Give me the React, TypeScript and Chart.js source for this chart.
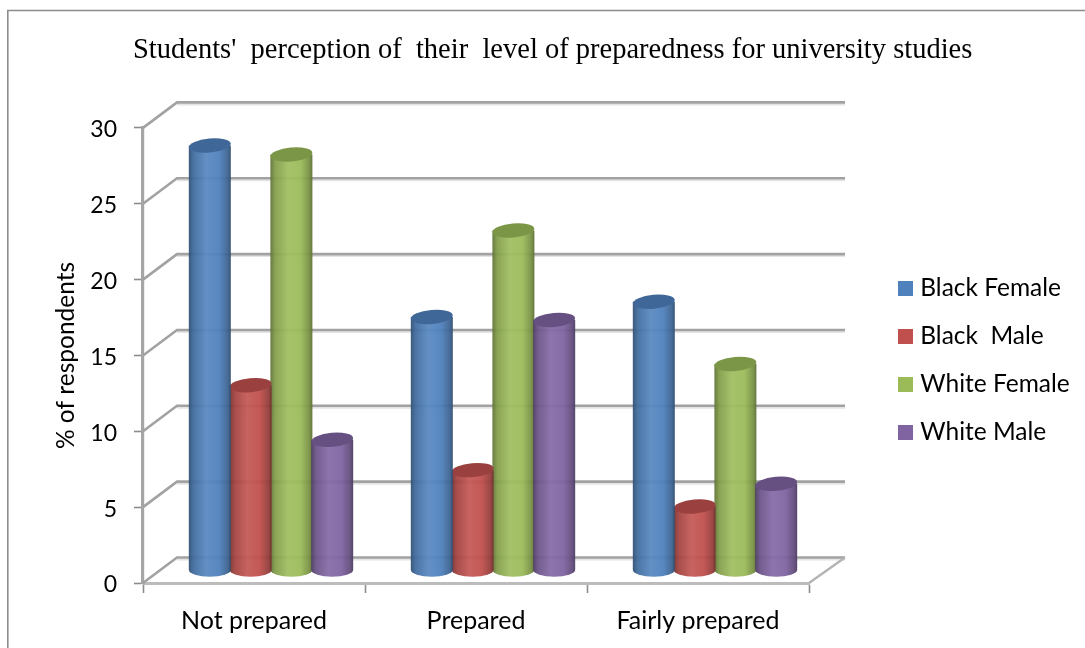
import React, { useEffect, useRef } from "react";
import { Chart, registerables, BarController, BarElement } from "chart.js";

const categories = ["Not prepared", "Prepared", "Fairly prepared"];
const blackFemale = [28, 16.7, 17.7];
const blackMale = [12.2, 6.6, 4.2];
const whiteFemale = [27.4, 22.4, 13.6];
const whiteMale = [8.6, 16.5, 5.7];
const seriesNames = ["Black Female", "Black  Male", "White Female", "White Male"];
const seriesColors = ["#4f81bd", "#c0504d", "#9bbb59", "#8064a2"];
const yTicks = [0, 5, 10, 15, 20, 25, 30];
const chartTitle = "Students'  perception of  their  level of preparedness for university studies";
const yTitle = "% of respondents";

// Depth of the 3D box, and where the cylinders stand inside it.
const DEPTH_X = 34;
const DEPTH_Y = 25.5;
const ELLIPSE_RY = 7;
const ELLIPSE_TILT = -0.09;

function shade(hex: string, f: number): string {
  const n = parseInt(hex.slice(1), 16);
  const mix = (c: number) =>
    Math.round(f < 1 ? c * f : c + (255 - c) * (f - 1));
  return `rgb(${mix(n >> 16)},${mix((n >> 8) & 255)},${mix(n & 255)})`;
}

class CylinderElement extends BarElement {
  static id = "cylinder";
  draw(ctx: CanvasRenderingContext2D) {
    const { x, y, base, width } = (this as any).getProps(["x", "y", "base", "width"], false);
    const color = (this as any).options.backgroundColor as string;
    const cx = x + DEPTH_X / 2;
    const top = y - DEPTH_Y / 2;
    const bottom = base - DEPTH_Y / 2;
    const r = width / 2 + 0.6;
    const grad = ctx.createLinearGradient(cx - r, 0, cx + r, 0);
    grad.addColorStop(0, shade(color, 0.62));
    grad.addColorStop(0.12, shade(color, 0.85));
    grad.addColorStop(0.42, shade(color, 1.06));
    grad.addColorStop(0.72, shade(color, 1));
    grad.addColorStop(0.92, shade(color, 0.78));
    grad.addColorStop(1, shade(color, 0.6));
    ctx.save();
    ctx.globalAlpha = 0.95;
    ctx.beginPath();
    ctx.moveTo(cx - r, top);
    ctx.lineTo(cx - r, bottom);
    ctx.ellipse(cx, bottom, r, ELLIPSE_RY, 0, Math.PI, 0, true);
    ctx.lineTo(cx + r, top);
    ctx.closePath();
    ctx.fillStyle = grad;
    ctx.fill();
    ctx.globalAlpha = 1;
    ctx.beginPath();
    ctx.ellipse(cx, top, r, ELLIPSE_RY, ELLIPSE_TILT, 0, Math.PI * 2);
    ctx.fillStyle = shade(color, 0.8);
    ctx.fill();
    ctx.restore();
  }
}

class CylinderController extends BarController {
  static id = "cylinderBar";
  static defaults = { ...(BarController as any).defaults, dataElementType: "cylinder" };
}

Chart.register(...registerables, CylinderElement as any, CylinderController as any);

function swatch(color: string): HTMLCanvasElement {
  const c = document.createElement("canvas");
  c.width = 15;
  c.height = 15;
  const g = c.getContext("2d")!;
  g.fillStyle = color;
  g.fillRect(0, 0, 15, 15);
  return c;
}

const boxPlugin = {
  id: "box3d",
  afterLayout(chart: any) {
    // Title and legend sit at fixed places around the plot.
    const t = chart.titleBlock;
    t.left = 133;
    t.right = 1085;
    const l = chart.legend;
    const pad = l.options.labels.padding;
    l.left = 903 - pad;
    l.right = 1085;
    l.top = 276 - pad;
    l.bottom = 640;
    // Value labels sit slightly below their tick marks.
    const y = chart.scales.y;
    const drawLabels = y.drawLabels;
    y.drawLabels = function (area: any) {
      chart.ctx.save();
      chart.ctx.translate(0, 2);
      drawLabels.call(y, area);
      chart.ctx.restore();
    };
  },
  beforeDraw(chart: any) {
    // Outer frame: left and top rules only.
    const { ctx } = chart;
    ctx.save();
    ctx.strokeStyle = "#8c8c8c";
    ctx.lineWidth = 1.6;
    ctx.beginPath();
    ctx.moveTo(7.8, 648);
    ctx.lineTo(7.8, 10.5);
    ctx.lineTo(1085, 10.5);
    ctx.stroke();
    ctx.restore();
  },
  beforeDatasetsDraw(chart: any) {
    const { ctx, chartArea: a, scales } = chart;
    const y = scales.y;
    const bx = a.left + DEPTH_X;
    const ex = a.right + DEPTH_X + 2;
    ctx.save();
    ctx.lineCap = "butt";
    for (const tick of y.ticks) {
      const py = y.getPixelForValue(tick.value);
      const by = py - DEPTH_Y;
      ctx.strokeStyle = "#e4e4e4";
      ctx.lineWidth = 2;
      ctx.beginPath();
      ctx.moveTo(bx, by + 2);
      ctx.lineTo(ex, by + 2);
      ctx.stroke();
      ctx.strokeStyle = "#a2a2a2";
      ctx.lineWidth = 2.6;
      ctx.beginPath();
      ctx.moveTo(a.left, py);
      ctx.lineTo(bx, by);
      ctx.lineTo(ex, by);
      ctx.stroke();
    }
    // Right edge of the floor.
    ctx.strokeStyle = "#b4b4b4";
    ctx.lineWidth = 2.4;
    ctx.beginPath();
    ctx.moveTo(a.right, a.bottom);
    ctx.lineTo(ex, a.bottom - DEPTH_Y);
    ctx.stroke();
    ctx.restore();
  },
  beforeDatasetDraw(chart: any, args: any) {
    // The last series overlaps its neighbour, so it is painted at the end.
    if (args.index === 3) return false;
  },
  afterDatasetsDraw(chart: any) {
    chart.getDatasetMeta(3).controller.draw();
  },
};

export default function App() {
  const ref = useRef<HTMLCanvasElement>(null);
  useEffect(() => {
    const sans = "Lato";
    const values = [blackFemale, blackMale, whiteFemale, whiteMale];
    const chart = new Chart(ref.current!, {
      type: "cylinderBar" as any,
      data: {
        labels: categories,
        datasets: seriesNames.map((label, i) => ({
          label,
          data: values[i],
          backgroundColor: seriesColors[i],
          categoryPercentage: 0.735,
          barPercentage: 1,
        })),
      },
      options: {
        responsive: false,
        animation: false,
        events: [],
        layout: { padding: { left: 0, top: 10, right: 276, bottom: 0 } },
        plugins: {
          tooltip: { enabled: false },
          title: {
            display: true,
            text: chartTitle,
            align: "start",
            color: "#000",
            font: { family: "Liberation Serif", size: 28.5, weight: "normal", lineHeight: 1.2 },
            padding: { top: 23, bottom: 60.7 },
          },
          legend: {
            position: "chartArea",
            align: "start",
            labels: {
              color: "#000",
              font: { family: sans, size: 24.5 },
              padding: 23.5,
              usePointStyle: true,
              pointStyleWidth: 5,
              generateLabels: () =>
                seriesNames.map((text, i) => ({
                  text,
                  fillStyle: seriesColors[i],
                  strokeStyle: seriesColors[i],
                  lineWidth: 0,
                  hidden: false,
                  datasetIndex: i,
                  pointStyle: swatch(seriesColors[i]),
                })) as any,
            },
          },
        },
        scales: {
          x: {
            offset: true,
            afterFit: (s: any) => { s.height = 65; },
            border: { color: "#bcbcbc", width: 3 },
            grid: {
              offset: true,
              drawOnChartArea: false,
              tickLength: 10,
              tickColor: "#8c8c8c",
              tickWidth: 1.6,
            },
            ticks: {
              color: "#000",
              padding: 13,
              maxRotation: 0,
              font: { family: sans, size: 25 },
            },
          },
          y: {
            min: 0,
            max: 30,
            afterFit: (s: any) => { s.width = 143; },
            afterBuildTicks: (s: any) => { s.ticks = yTicks.map((value) => ({ value })); },
            border: { color: "#a6a6a6", width: 3.2 },
            grid: {
              drawOnChartArea: false,
              tickLength: 9,
              tickColor: "#8c8c8c",
              tickWidth: 1.6,
            },
            ticks: {
              color: "#000",
              padding: 17,
              font: { family: sans, size: 23 },
            },
            title: {
              display: true,
              text: yTitle,
              color: "#000",
              font: { family: sans, size: 24.5 },
              padding: { top: 51, bottom: 0 },
            },
          },
        },
      },
      plugins: [boxPlugin as any],
    } as any);
    return () => chart.destroy();
  }, []);
  return (
    <canvas
      ref={ref}
      width={1085}
      height={648}
      style={{ position: "fixed", left: 0, top: 0, display: "block", background: "#fff" }}
    />
  );
}
